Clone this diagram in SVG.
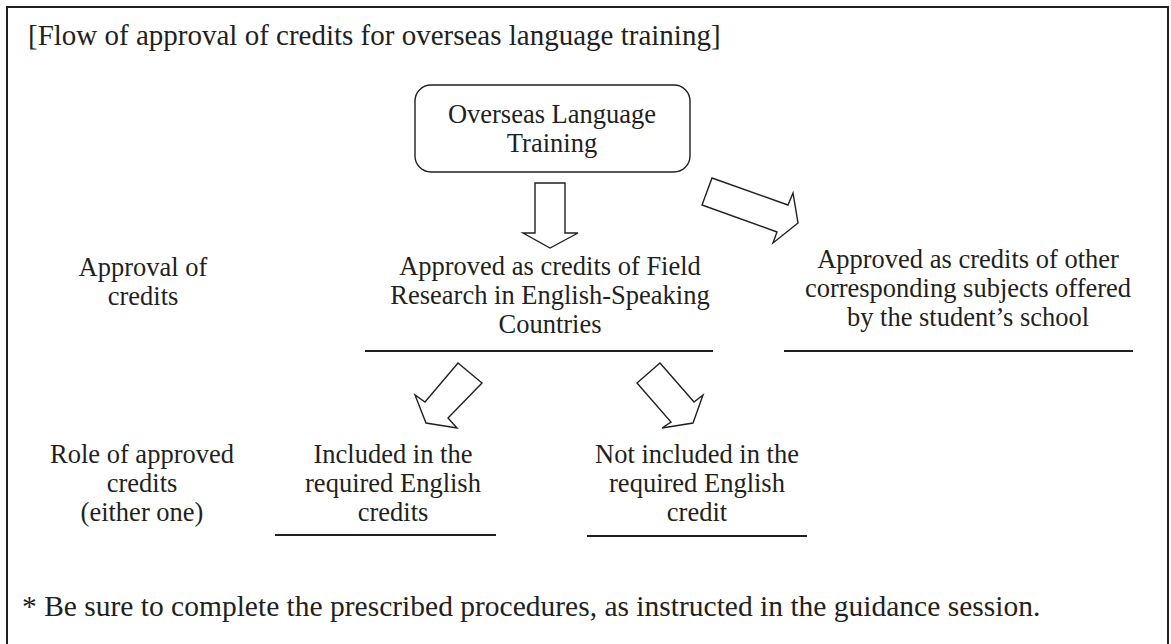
<svg xmlns="http://www.w3.org/2000/svg" width="1171" height="644" viewBox="0 0 1171 644">
  <style>
    text { font-family: "Liberation Serif", "Times New Roman", serif; fill: #231f20; }
    .t { font-size: 26.5px; text-anchor: middle; }
    .big { font-size: 29px; }
    .foot { font-size: 29.5px; }
    .shape { fill: #ffffff; stroke: #231f20; stroke-width: 1.4; stroke-linejoin: miter; }
    .rule { stroke: #231f20; stroke-width: 2; }
  </style>
  <rect x="0" y="0" width="1171" height="644" fill="#ffffff"/>
  <path id="frame" d="M7,660 L7,7 L1168,7 L1168,660" fill="none" stroke="#231f20" stroke-width="2"/>

  <text id="title" class="big" x="28" y="45">[Flow of approval of credits for overseas language training]</text>

  <g id="node-training">
    <rect class="shape" x="415" y="85" width="275" height="87" rx="16" ry="16"/>
    <text class="t" x="552" y="123">Overseas Language</text>
    <text class="t" x="552" y="152">Training</text>
  </g>

  <g id="label-approval">
    <text class="t" x="143" y="276">Approval of</text>
    <text class="t" x="143" y="305">credits</text>
  </g>

  <g id="label-role">
    <text class="t" x="142" y="463">Role of approved</text>
    <text class="t" x="142" y="492">credits</text>
    <text class="t" x="142" y="521">(either one)</text>
  </g>

  <g id="node-field">
    <text class="t" x="550" y="275">Approved as credits of Field</text>
    <text class="t" x="550" y="304">Research in English-Speaking</text>
    <text class="t" x="550" y="333">Countries</text>
    <line class="rule" x1="365" y1="351" x2="713" y2="351"/>
  </g>

  <g id="node-other">
    <text class="t" x="968" y="268">Approved as credits of other</text>
    <text class="t" x="968" y="297">corresponding subjects offered</text>
    <text class="t" x="968" y="326">by the student’s school</text>
    <line class="rule" x1="784" y1="351" x2="1133" y2="351"/>
  </g>

  <g id="node-included">
    <text class="t" x="393" y="463">Included in the</text>
    <text class="t" x="393" y="492">required English</text>
    <text class="t" x="393" y="521">credits</text>
    <line class="rule" x1="275" y1="535" x2="496" y2="535"/>
  </g>

  <g id="node-not-included">
    <text class="t" x="697" y="463">Not included in the</text>
    <text class="t" x="697" y="492">required English</text>
    <text class="t" x="697" y="521">credit</text>
    <line class="rule" x1="587" y1="536" x2="807" y2="536"/>
  </g>

  <g id="connectors">
    <polygon class="shape" points="535,183 565,183 565,233 578,233 550,248 523,233 535,233"/>
    <polygon class="shape" points="712,178 788,205 793,193 798,223 773,243 777,232 702,205"/>
    <polygon class="shape" points="458,363 482,383 448,418 457,428 426,423 415,395 425,402"/>
    <polygon class="shape" points="660,363 694,402 703,395 693,423 662,428 671,422 637,383"/>
  </g>

  <text id="footnote" class="foot" x="22" y="616">* Be sure to complete the prescribed procedures, as instructed in the guidance session.</text>
</svg>
